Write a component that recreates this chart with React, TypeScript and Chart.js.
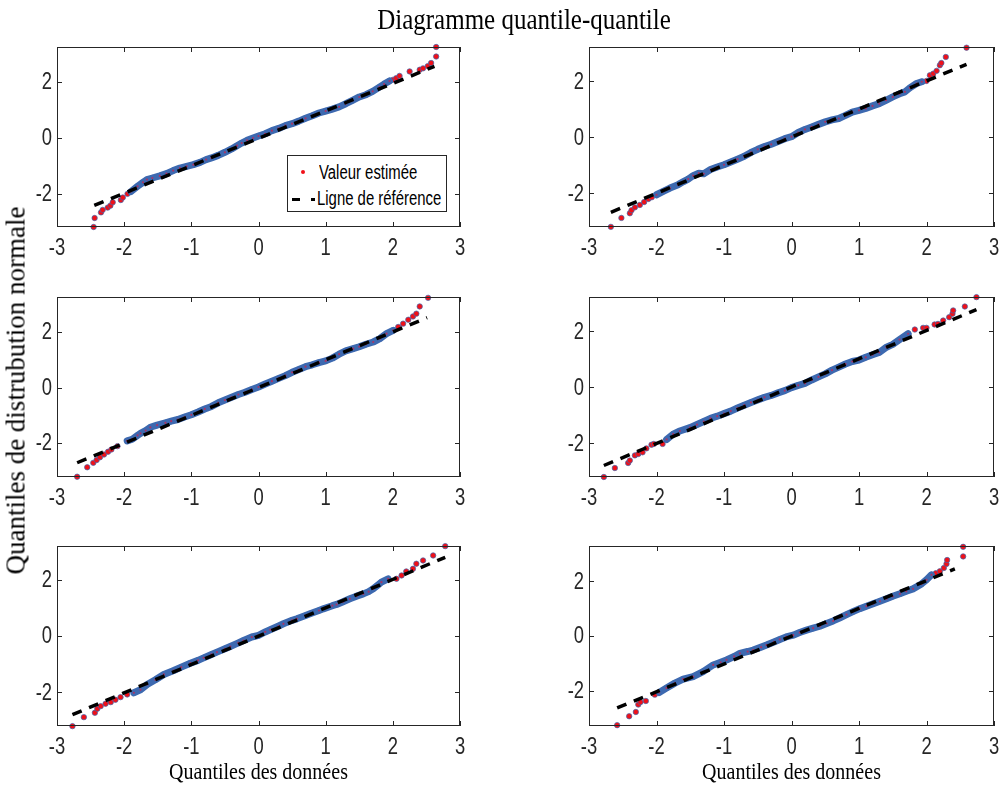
import React, { useEffect, useRef } from "react";
import { Chart, registerables } from "chart.js";

Chart.register(...registerables);

// ---------- data ----------
const xTicks = [-3, -2, -1, 0, 1, 2, 3];
const yTicks = [-2, 0, 2];

const titleText = "Diagramme quantile-quantile";
const xTitleText = "Quantiles des données";
const yTitleText = "Quantiles de distrubution normale";
const legendLabels = ["Valeur estimée", "Ligne de référence"];

// Top-left
const tlX = [-2.455, -2.44, -2.345, -2.32, -2.245, -2.205, -2.17, -2.05, -2.02, -1.95, -1.9,
  -1.8, -1.72, -1.66, -1.58, -1.47, -1.37, -1.27, -1.17, -1.07, -0.97, -0.87, -0.78, -0.7, -0.6, -0.5, -0.4, -0.32, -0.25, -0.17, -0.08,
  0, 0.1, 0.2, 0.3, 0.4, 0.5, 0.6, 0.7, 0.8, 0.9, 1.0, 1.1, 1.2, 1.3, 1.4, 1.5, 1.6, 1.7, 1.8, 1.87,
  1.95, 2.0, 2.05, 2.1, 2.25, 2.4, 2.45, 2.52, 2.57, 2.645, 2.645];
const tlY = [-3.18, -2.86, -2.66, -2.57, -2.49, -2.42, -2.3, -2.22, -2.13, -2.0, -1.92,
  -1.73, -1.59, -1.49, -1.435, -1.36, -1.28, -1.17, -1.08, -1.02, -0.96, -0.88, -0.78, -0.72, -0.63, -0.52, -0.4, -0.285, -0.19, -0.095, -0.01,
  0.06, 0.14, 0.25, 0.33, 0.43, 0.5, 0.59, 0.69, 0.78, 0.88, 0.95, 1.02, 1.1, 1.21, 1.33, 1.45, 1.53, 1.65, 1.8, 1.91,
  2.02, 2.06, 2.12, 2.2, 2.36, 2.42, 2.47, 2.55, 2.66, 2.89, 3.23];
const tlBody = [10, 51];
const tlRefX = [-2.445, 2.62];
const tlRefY = [-2.41, 2.54];
const tlYRange = [-3.18, 3.23];

// Top-right
const trX = [-2.676, -2.52, -2.395, -2.37, -2.32, -2.247, -2.183, -2.12, -2.07, -2.0,
  -1.9, -1.8, -1.68, -1.6, -1.53, -1.457, -1.373, -1.3, -1.2, -1.1, -1.0, -0.9, -0.8, -0.7, -0.6, -0.5, -0.4, -0.3, -0.2, -0.1,
  0, 0.1, 0.2, 0.3, 0.4, 0.5, 0.6, 0.7, 0.8, 0.9, 1.0, 1.1, 1.2, 1.3, 1.4, 1.5, 1.6, 1.68, 1.753, 1.852,
  1.93, 2.0, 2.05, 2.1, 2.15, 2.198, 2.22, 2.286, 2.593];
const trY = [-3.195, -2.876, -2.71, -2.6, -2.5, -2.414, -2.31, -2.2, -2.14, -2.05,
  -1.93, -1.81, -1.69, -1.58, -1.49, -1.37, -1.28, -1.3, -1.15, -1.06, -0.98, -0.88, -0.78, -0.68, -0.54, -0.43, -0.33, -0.25, -0.15, -0.05,
  0.02, 0.17, 0.28, 0.37, 0.46, 0.55, 0.62, 0.67, 0.78, 0.9, 0.96, 1.03, 1.12, 1.2, 1.32, 1.44, 1.55, 1.62, 1.763, 1.917,
  1.98, 2.01, 2.21, 2.27, 2.37, 2.57, 2.65, 2.864, 3.195];
const trBody = [9, 50];
const trRefX = [-2.676, 2.593];
const trRefY = [-2.675, 2.604];
const trYRange = [-3.2, 3.22];

// Middle-left
const mlX = [-2.7, -2.55, -2.46, -2.41, -2.36, -2.3, -2.24, -2.19, -2.1, -1.955,
  -1.88, -1.8, -1.757, -1.68, -1.61, -1.51, -1.386, -1.3, -1.2, -1.1, -1.0, -0.9, -0.8, -0.7, -0.6, -0.5, -0.4, -0.3, -0.2, -0.1,
  0, 0.1, 0.2, 0.3, 0.4, 0.5, 0.6, 0.7, 0.8, 0.9, 1.0, 1.1, 1.2, 1.3, 1.41, 1.5, 1.6, 1.708, 1.807, 1.906, 2.005,
  2.08, 2.153, 2.23, 2.3, 2.35, 2.4, 2.525];
const mlY = [-3.21, -2.87, -2.71, -2.61, -2.51, -2.41, -2.31, -2.23, -2.11, -1.92,
  -1.86, -1.72, -1.65, -1.55, -1.43, -1.35, -1.27, -1.21, -1.15, -1.06, -0.98, -0.88, -0.77, -0.68, -0.55, -0.45, -0.35, -0.25, -0.17, -0.07,
  0.02, 0.13, 0.23, 0.33, 0.43, 0.55, 0.65, 0.75, 0.82, 0.9, 0.96, 1.06, 1.2, 1.32, 1.4, 1.47, 1.56, 1.64, 1.76, 1.94, 2.06,
  2.18, 2.3, 2.44, 2.56, 2.66, 2.92, 3.23];
const mlBody = [9, 50];
const mlRefX = [-2.7, 2.51];
const mlRefY = [-2.707, 2.515];
const mlYRange = [-3.22, 3.26];

// Middle-right
const mrX = [-2.78, -2.617, -2.42, -2.395, -2.32, -2.27, -2.207, -2.15, -2.074, -2.04, -1.91,
  -1.85, -1.753, -1.654, -1.506, -1.4, -1.3, -1.2, -1.1, -1.0, -0.9, -0.8, -0.7, -0.6, -0.5, -0.4, -0.3, -0.2, -0.1,
  0, 0.1, 0.2, 0.3, 0.4, 0.5, 0.6, 0.7, 0.8, 0.9, 1.0, 1.1, 1.2, 1.3, 1.407, 1.5, 1.6, 1.728,
  1.827, 1.95, 2.0, 2.12, 2.17, 2.247, 2.336, 2.385, 2.395, 2.568, 2.74];
const mrY = [-3.2, -2.88, -2.7, -2.61, -2.43, -2.38, -2.32, -2.18, -2.05, -2.02, -2.02,
  -1.86, -1.67, -1.56, -1.44, -1.33, -1.22, -1.11, -1.03, -0.94, -0.85, -0.74, -0.64, -0.54, -0.45, -0.36, -0.29, -0.2, -0.12,
  -0.01, 0.07, 0.14, 0.26, 0.37, 0.48, 0.61, 0.72, 0.83, 0.92, 0.97, 1.07, 1.16, 1.24, 1.43, 1.53, 1.7, 1.91,
  2.06, 2.12, 2.12, 2.24, 2.26, 2.38, 2.5, 2.62, 2.74, 2.88, 3.215];
const mrBody = [11, 46];
const mrRefX = [-2.78, 2.74];
const mrRefY = [-2.79, 2.77];
const mrYRange = [-3.2, 3.22];

// Bottom-left
const blX = [-2.77, -2.6, -2.436, -2.4, -2.35, -2.277, -2.2, -2.13, -2.054, -1.955, -1.856,
  -1.757, -1.658, -1.535, -1.41, -1.262, -1.15, -1.015, -0.9, -0.817, -0.7, -0.619, -0.5, -0.42, -0.3, -0.223, -0.1,
  0, 0.1, 0.173, 0.3, 0.371, 0.5, 0.57, 0.7, 0.767, 0.9, 0.965, 1.1, 1.163, 1.26, 1.36, 1.46, 1.56, 1.64, 1.708, 1.77, 1.83, 1.93,
  2.054, 2.13, 2.2, 2.3, 2.35, 2.45, 2.6, 2.78];
const blY = [-3.195, -2.876, -2.72, -2.58, -2.485, -2.4, -2.343, -2.26, -2.166, -2.07, -2.01,
  -1.905, -1.716, -1.55, -1.36, -1.22, -1.1, -0.96, -0.86, -0.77, -0.65, -0.568, -0.45, -0.367, -0.24, -0.154, -0.03,
  0.03, 0.15, 0.225, 0.36, 0.438, 0.56, 0.615, 0.73, 0.793, 0.91, 0.97, 1.08, 1.124, 1.22, 1.325, 1.42, 1.5, 1.58, 1.68, 1.8, 1.917, 2.035,
  2.035, 2.154, 2.296, 2.39, 2.57, 2.686, 2.864, 3.195];
const blBody = [10, 48];
const blRefX = [-2.77, 2.78];
const blRefY = [-2.79, 2.8];
const blYRange = [-3.19, 3.2];

// Bottom-right
const brX = [-2.583, -2.405, -2.306, -2.27, -2.237, -2.158, -2.025, -1.96,
  -1.852, -1.728, -1.605, -1.457, -1.309, -1.16, -1.05, -0.963, -0.85, -0.765, -0.65, -0.568, -0.45, -0.37, -0.26, -0.173, -0.08,
  0.025, 0.12, 0.222, 0.32, 0.42, 0.52, 0.617, 0.72, 0.815, 0.91, 1.012, 1.11, 1.21, 1.31, 1.407, 1.5, 1.605, 1.7, 1.8, 1.926, 2.0,
  2.074, 2.138, 2.198, 2.257, 2.296, 2.306, 2.543, 2.543];
const brY = [-3.24, -2.916, -2.76, -2.49, -2.4, -2.36, -2.13, -2.05,
  -1.89, -1.71, -1.566, -1.47, -1.289, -1.048, -0.95, -0.867, -0.74, -0.627, -0.56, -0.506, -0.4, -0.325, -0.21, -0.12, -0.03,
  0.036, 0.13, 0.217, 0.29, 0.36, 0.46, 0.554, 0.67, 0.783, 0.89, 1.0, 1.09, 1.18, 1.27, 1.36, 1.45, 1.54, 1.63, 1.72, 1.9, 2.05,
  2.23, 2.29, 2.36, 2.48, 2.627, 2.77, 2.9, 3.25];
const brBody = [7, 46];
const brRefX = [-2.583, 2.42];
const brRefY = [-2.614, 2.446];
const brYRange = [-3.27, 3.28];

// ---------- styles / layout ----------
const RED = "#f01018";
const BLUE = "#3d69b0";
const AXIS = "#262626";
const SANS = "'Liberation Sans', Arial, sans-serif";
const SERIF = "'Liberation Serif', 'DejaVu Serif', serif";
const NARROW = 0.8;
const LEGEND_NARROW = 0.745;

const PH = 180;
const ML = 57, MT = 24, MR = 14, MB = 40;

type PanelDef = {
  xs: number[]; ys: number[]; body: number[]; refX: number[]; refY: number[]; yRange: number[];
  left: number; top: number; width: number;
};

const panels: PanelDef[] = [
  { xs: tlX, ys: tlY, body: tlBody, refX: tlRefX, refY: tlRefY, yRange: tlYRange, left: 57, top: 47, width: 403 },
  { xs: trX, ys: trY, body: trBody, refX: trRefX, refY: trRefY, yRange: trYRange, left: 589, top: 47, width: 405 },
  { xs: mlX, ys: mlY, body: mlBody, refX: mlRefX, refY: mlRefY, yRange: mlYRange, left: 57, top: 297, width: 403 },
  { xs: mrX, ys: mrY, body: mrBody, refX: mrRefX, refY: mrRefY, yRange: mrYRange, left: 589, top: 297, width: 405 },
  { xs: blX, ys: blY, body: blBody, refX: blRefX, refY: blRefY, yRange: blYRange, left: 57, top: 546, width: 403 },
  { xs: brX, ys: brY, body: brBody, refX: brRefX, refY: brRefY, yRange: brYRange, left: 589, top: 546, width: 405 },
];

// Box, inward ticks on all four sides, and condensed tick labels (MATLAB look)
const boxPlugin = {
  id: "matlabBox",
  afterDraw(chart: any) {
    const { ctx, chartArea: a, scales } = chart;
    const L = 5;
    ctx.save();
    ctx.strokeStyle = AXIS;
    ctx.lineWidth = 1;
    ctx.strokeRect(a.left + 0.5, a.top + 0.5, a.right - a.left - 1, a.bottom - a.top - 1);
    ctx.beginPath();
    scales.x.ticks.forEach((t: any) => {
      const px = Math.round(scales.x.getPixelForValue(t.value)) + 0.5;
      ctx.moveTo(px, a.bottom);
      ctx.lineTo(px, a.bottom - L);
      ctx.moveTo(px, a.top);
      ctx.lineTo(px, a.top + L);
    });
    scales.y.ticks.forEach((t: any) => {
      const py = Math.round(scales.y.getPixelForValue(t.value)) + 0.5;
      ctx.moveTo(a.left, py);
      ctx.lineTo(a.left + L, py);
      ctx.moveTo(a.right, py);
      ctx.lineTo(a.right - L, py);
    });
    ctx.stroke();

    ctx.fillStyle = AXIS;
    ctx.font = `23px ${SANS}`;
    ctx.textBaseline = "middle";
    ctx.textAlign = "center";
    scales.x.ticks.forEach((t: any) => {
      const px = scales.x.getPixelForValue(t.value);
      ctx.save();
      ctx.translate(px, a.bottom + 22);
      ctx.scale(NARROW, 1);
      ctx.fillText(String(t.value), 0, 0);
      ctx.restore();
    });
    ctx.textAlign = "right";
    scales.y.ticks.forEach((t: any) => {
      const py = scales.y.getPixelForValue(t.value);
      ctx.save();
      ctx.translate(a.left - 5, py + 1);
      ctx.scale(NARROW, 1);
      ctx.fillText(String(t.value), 0, 0);
      ctx.restore();
    });
    ctx.restore();
  },
};

function Panel({ p }: { p: PanelDef }) {
  const ref = useRef<HTMLCanvasElement>(null);
  const W = p.width + ML + MR;
  const H = PH + MT + MB;
  useEffect(() => {
    const pts = p.xs.map((x, i) => ({ x, y: p.ys[i] }));
    const body = pts.slice(p.body[0], p.body[1] + 1);
    const refPts = p.refX.map((x, i) => ({ x, y: p.refY[i] }));
    const chart = new Chart(ref.current as HTMLCanvasElement, {
      type: "scatter",
      data: {
        datasets: [
          { data: refPts, showLine: true, borderColor: "#000", borderWidth: 3.5, borderDash: [10, 8], pointRadius: 0, order: 0, clip: false } as any,
          { data: body, showLine: false, pointRadius: 1.1, backgroundColor: "rgba(215,30,70,0.7)", borderWidth: 0, order: 1, clip: false } as any,
          { data: body, showLine: true, borderColor: BLUE, borderWidth: 7, borderCapStyle: "round", borderJoinStyle: "round", pointRadius: 0, order: 2, clip: false } as any,
          { data: pts, showLine: false, pointRadius: 2.7, backgroundColor: RED, borderColor: BLUE, borderWidth: 0.7, order: 3, clip: false } as any,
        ],
      },
      options: {
        responsive: false,
        animation: false,
        devicePixelRatio: 1,
        events: [],
        layout: { padding: { left: 0, top: MT, right: MR, bottom: 0 } },
        plugins: { legend: { display: false }, tooltip: { enabled: false } },
        scales: {
          x: {
            type: "linear",
            min: -3,
            max: 3,
            grid: { display: false, drawTicks: false },
            border: { display: false },
            ticks: { display: false },
            afterBuildTicks: (s: any) => { s.ticks = xTicks.map((v) => ({ value: v })); },
            afterFit: (s: any) => { s.height = MB; },
          },
          y: {
            type: "linear",
            min: p.yRange[0],
            max: p.yRange[1],
            grid: { display: false, drawTicks: false },
            border: { display: false },
            ticks: { display: false },
            afterBuildTicks: (s: any) => { s.ticks = yTicks.map((v) => ({ value: v })); },
            afterFit: (s: any) => { s.width = ML; },
          },
        },
      } as any,
      plugins: [boxPlugin],
    });
    return () => chart.destroy();
  }, []);
  return (
    <canvas
      ref={ref}
      width={W}
      height={H}
      style={{ position: "absolute", left: p.left - ML, top: p.top - MT, width: W, height: H }}
    />
  );
}

export default function App() {
  const legendFont = {
    fontFamily: SANS, fontSize: 20, lineHeight: "20px", color: "#000", whiteSpace: "nowrap" as const,
    transform: `scaleX(${LEGEND_NARROW})`, transformOrigin: "left center",
  };
  return (
    <div style={{ position: "absolute", left: 0, top: 0, width: 1001, height: 792, background: "#fff", overflow: "hidden" }}>
      {panels.map((p, i) => (
        <Panel key={i} p={p} />
      ))}
      {/* Title */}
      <div style={{ position: "absolute", left: 274, top: 5.5, width: 500, textAlign: "center", fontFamily: SERIF, fontSize: 25, lineHeight: "25px", color: "#000", transform: "scaleY(1.2)" }}>
        {titleText}
      </div>
      {/* Y title */}
      <div style={{ position: "absolute", left: 16 - 250, top: 390 - 13.5, width: 500, height: 27, textAlign: "center", fontFamily: SERIF, fontSize: 27, lineHeight: "27px", color: "#000", transform: "rotate(-90deg)", whiteSpace: "nowrap" }}>
        {yTitleText}
      </div>
      {/* X titles */}
      <div style={{ position: "absolute", left: 258.5 - 200, top: 761, width: 400, textAlign: "center", fontFamily: SERIF, fontSize: 20, lineHeight: "20px", color: "#000", transform: "scaleY(1.15)" }}>
        {xTitleText}
      </div>
      <div style={{ position: "absolute", left: 791.5 - 200, top: 761, width: 400, textAlign: "center", fontFamily: SERIF, fontSize: 20, lineHeight: "20px", color: "#000", transform: "scaleY(1.15)" }}>
        {xTitleText}
      </div>
      {/* Legend */}
      <div style={{ position: "absolute", left: 287, top: 155, width: 160, height: 57, boxSizing: "border-box", border: `1px solid ${AXIS}`, background: "#fff" }} />
      <div style={{ position: "absolute", left: 300.7, top: 170.3, width: 4, height: 4, borderRadius: "50%", background: RED }} />
      <div style={{ position: "absolute", left: 319, top: 162.3, ...legendFont }}>{legendLabels[0]}</div>
      <div style={{ position: "absolute", left: 291.5, top: 197.5, width: 8.5, height: 3.5, background: "#000" }} />
      <div style={{ position: "absolute", left: 310.5, top: 197.5, width: 4.5, height: 3.5, background: "#000" }} />
      <div style={{ position: "absolute", left: 317, top: 187.5, ...legendFont }}>{legendLabels[1]}</div>
    </div>
  );
}
